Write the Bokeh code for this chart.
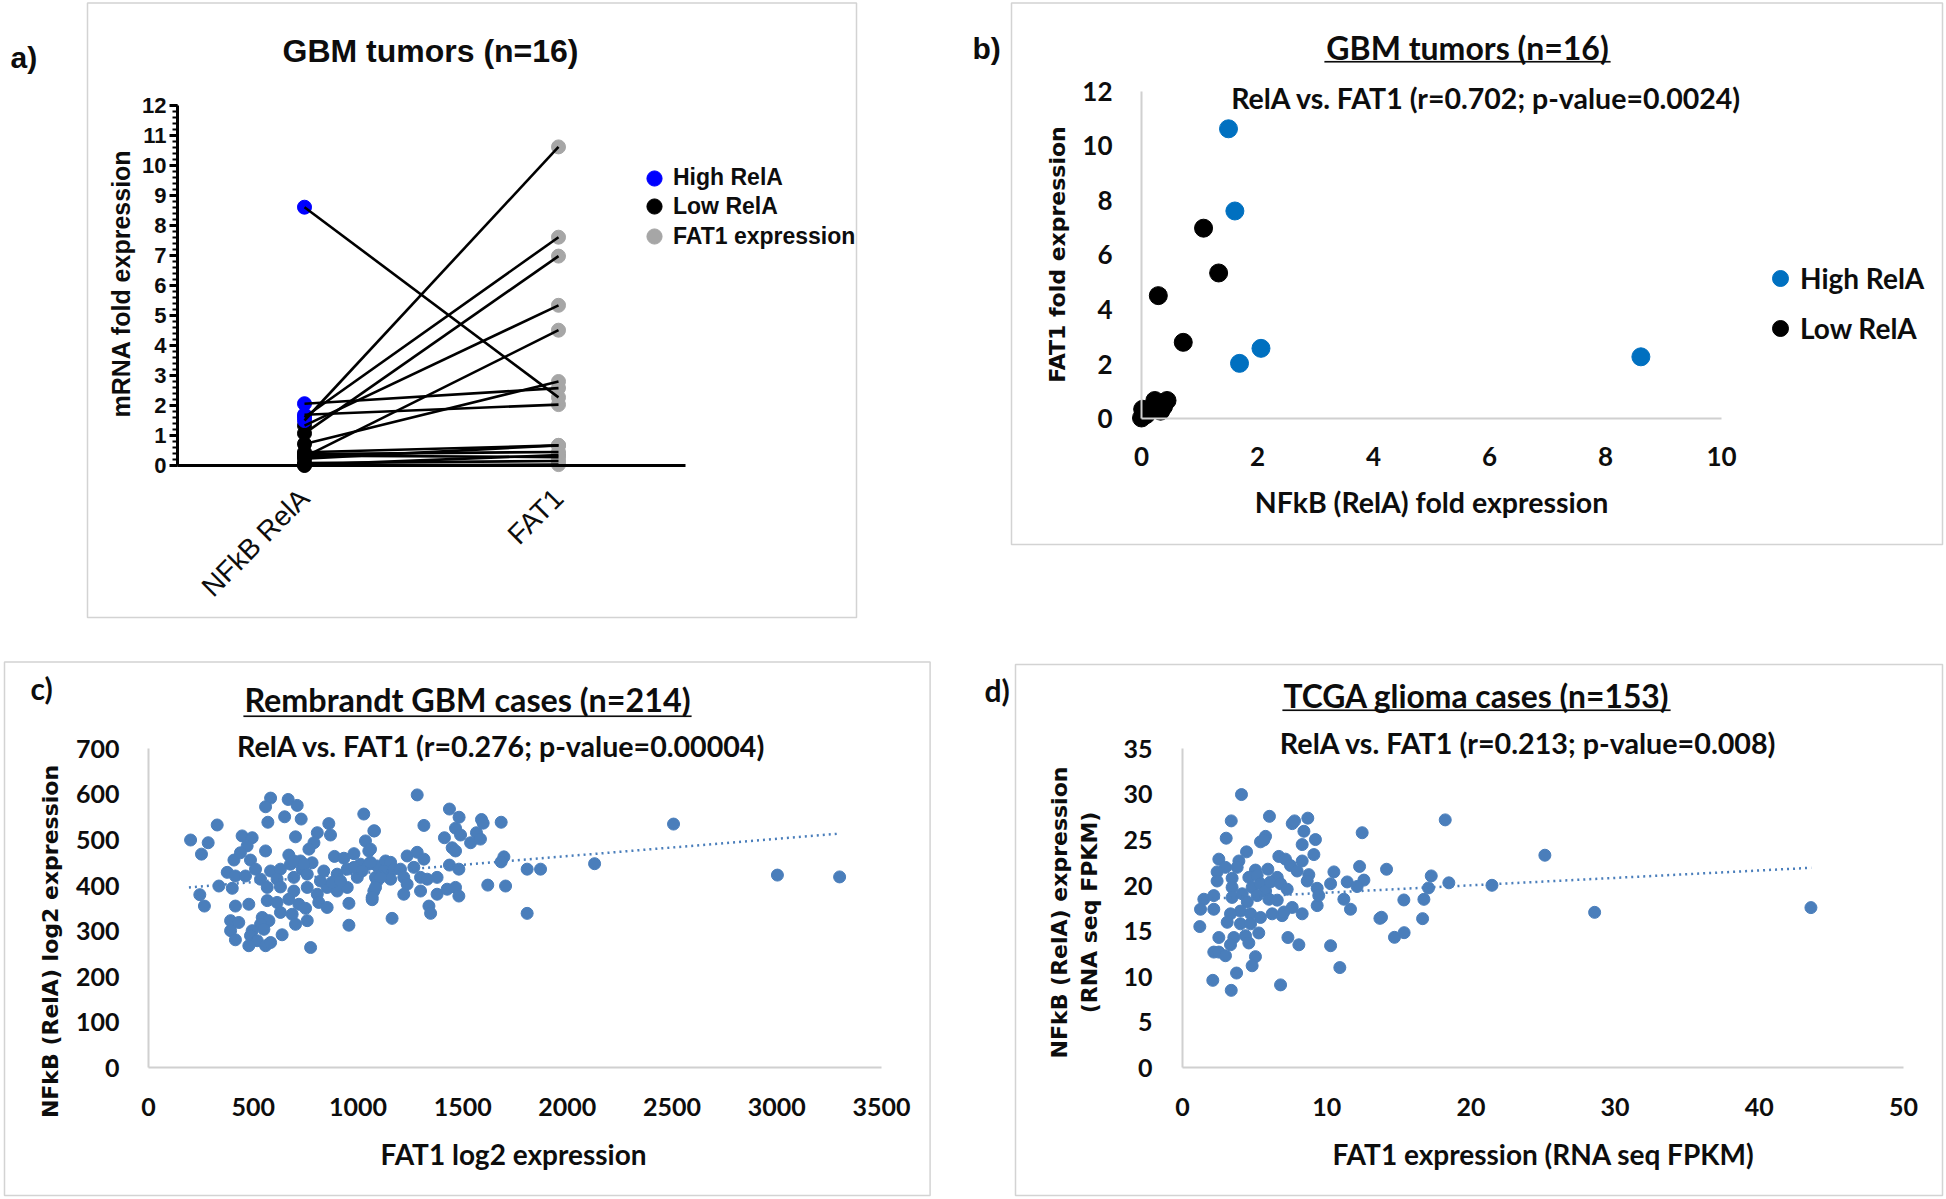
import math
from bokeh.plotting import figure
from bokeh.layouts import row, column
from bokeh.models import (Range1d, Label, BoxAnnotation, Legend, LegendItem,
                          FixedTicker, SingleIntervalTicker)
from bokeh.embed import file_html
from bokeh.resources import INLINE

# ---------------- data ----------------
# a) / b)  GBM tumors (n=16): NFkB RelA fold expression and FAT1 fold expression per tumor
categories = ["NFkB RelA", "FAT1"]
high_rela = [1.50, 1.61, 1.69, 2.06, 8.61]
high_fat1 = [10.62, 7.61, 2.03, 2.58, 2.27]
low_rela = [1.07, 1.33, 0.29, 0.72, 0.00, 0.02, 0.23, 0.44, 0.33, 0.08, 0.38]
low_fat1 = [6.98, 5.34, 4.51, 2.80, 0.03, 0.35, 0.67, 0.67, 0.28, 0.15, 0.45]

a_ytick_interval = 1
b_xticks = [0, 2, 4, 6, 8, 10]
b_yticks = [0, 2, 4, 6, 8, 10, 12]

# c) Rembrandt GBM cases: FAT1 log2 expression (x) vs NFkB RelA log2 expression (y)
c_fat1 = [583, 667, 710, 559, 650, 729, 570, 328, 1028, 861, 201, 285, 253, 447, 495, 471, 702, 806,
          869, 790, 766, 1076, 1036, 1052, 559, 408, 487, 439, 670, 726, 781, 888, 933, 981, 1012, 1052,
          376, 415, 463, 511, 535, 583, 630, 614, 678, 734, 694, 837, 901, 949, 997, 1084, 336, 400,
          245, 267, 567, 630, 694, 758, 806, 853, 901, 949, 1076, 1068, 415, 479, 567, 614, 670, 718,
          813, 853, 750, 957, 392, 431, 543, 575, 535, 630, 686, 702, 758, 957, 392, 495, 551, 415,
          487, 519, 479, 559, 583, 638, 774, 694, 742, 758, 821, 877, 917, 981, 1020, 1092,
          1283, 1437, 1483, 1315, 1590, 1598, 1684, 1466, 1490, 1566, 1538, 1585, 1413, 1450, 1466,
          1697, 1684, 1808, 1872, 1437, 1482, 1620, 1705, 1808, 1079, 1092, 1132, 1156, 1124, 1171,
          1203, 1235, 1283, 1315, 1267, 1219, 1156, 1108, 1084, 1235, 1299, 1331, 1378, 1299, 1219,
          1068, 1378, 1426, 1466, 1482, 1339, 1347, 1163, 1060, 1060,
          2130, 2507, 3003, 3300]
c_rela = [592, 589, 576, 573, 551, 546, 539, 533, 557, 536, 500, 494, 469, 509, 505, 487, 507, 516,
          511, 494, 480, 520, 498, 476, 476, 456, 456, 472, 467, 454, 450, 464, 460, 470, 447, 447,
          429, 421, 421, 436, 414, 432, 436, 414, 447, 436, 418, 432, 425, 436, 418, 418, 399, 394,
          380, 355, 396, 397, 388, 396, 381, 396, 388, 396, 388, 369, 355, 359, 367, 363, 370, 359,
          363, 352, 350, 361, 323, 319, 330, 323, 315, 341, 337, 315, 323, 313, 301, 301, 304, 281,
          290, 279, 268, 268, 275, 292, 264, 454, 447, 425, 410, 407, 410, 440, 432, 410,
          599, 568, 550, 532, 545, 537, 539, 526, 511, 516, 494, 502, 505, 483, 476,
          463, 452, 436, 436, 445, 436, 401, 399, 339, 520, 443, 454, 451, 432, 436,
          436, 465, 473, 458, 440, 418, 414, 418, 396, 403, 418, 414, 418, 388, 381,
          374, 381, 392, 396, 377, 355, 339, 328, 480, 451,
          448, 535, 423, 419]
c_trend_x = [193, 3300]
c_trend_y = [396, 514]
c_xticks = [0, 500, 1000, 1500, 2000, 2500, 3000, 3500]
c_yticks = [0, 100, 200, 300, 400, 500, 600, 700]

# d) TCGA glioma cases: FAT1 FPKM (x) vs NFkB RelA FPKM (y)
d_fat1 = [4.09, 3.38, 6.03, 7.61, 7.77, 8.69, 8.42, 9.22, 8.30, 9.11, 12.46, 3.03, 5.76, 5.41, 5.64,
          4.44, 2.52, 3.91, 2.98, 3.79, 6.68, 7.14, 7.49, 8.30, 7.95, 5.92, 5.06, 2.40, 2.40, 3.44,
          4.60, 5.18, 6.57, 8.76, 8.65, 10.50, 12.28, 12.58, 10.27, 9.34, 11.42, 12.11, 1.48, 2.17,
          1.25, 2.17, 3.44, 3.44, 4.14, 4.83, 5.41, 5.76, 6.10, 6.80, 7.26, 4.49, 5.18, 5.99, 6.57,
          4.02, 3.33, 4.72, 5.41, 6.22, 6.91, 7.61, 7.03, 8.30, 9.34, 9.45, 11.19, 11.65, 13.69,
          3.10, 4.02, 4.72, 1.20, 3.56, 4.37, 5.29, 2.52, 3.33, 4.60, 2.17, 2.52, 2.98, 5.06, 4.83,
          7.31, 8.07, 10.27, 10.91, 3.75, 2.10, 3.38, 6.80,
          18.22, 14.15, 17.25, 18.47, 17.06, 21.46, 15.35, 16.74, 13.80, 16.65, 14.70, 15.37,
          25.13, 28.58, 43.58]
d_rela = [29.99, 27.1, 27.6, 26.8, 27.1, 27.4, 25.96, 25.05, 24.5, 23.4, 25.8, 25.2, 25.4, 24.8, 25.0,
          23.7, 22.9, 22.7, 22.0, 22.0, 23.2, 22.9, 22.2, 22.7, 21.6, 21.8, 21.7, 21.5, 20.5, 20.8,
          20.9, 21.1, 20.9, 21.2, 20.5, 21.5, 22.1, 20.6, 20.2, 19.7, 20.4, 19.9, 18.5, 18.9,
          17.4, 17.4, 19.8, 18.7, 19.1, 19.8, 20.2, 19.4, 20.4, 20.2, 19.6, 18.2, 18.9, 18.5, 18.4,
          17.2, 16.9, 16.9, 16.5, 16.9, 16.7, 17.6, 17.1, 16.9, 17.8, 18.9, 18.5, 17.4, 16.4,
          15.97, 15.8, 15.8, 15.5, 14.3, 14.5, 14.8, 14.3, 13.5, 13.7, 12.7, 12.7, 12.3, 12.2, 11.2,
          14.3, 13.5, 13.4, 11.0, 10.4, 9.6, 8.5, 9.1,
          27.21, 21.79, 21.06, 20.3, 19.74, 20.03, 18.42, 18.49, 16.52, 16.37, 14.32, 14.83,
          23.33, 17.06, 17.58]
d_trend_x = [1.2, 43.6]
d_trend_y = [18.5, 21.95]
d_xticks = [0, 10, 20, 30, 40, 50]
d_yticks = [0, 5, 10, 15, 20, 25, 30, 35]

# ---------------- styling / layout helpers ----------------
BLUE_A = "#0000FF"
GRAY_A = "#A6A6A6"
BLUE_B = "#0070C0"
PT = "#4A7EBB"
AX_GRAY = "#D0D0D0"
BOX = "#6E6E6E"
TXT = "#0D0D0D"

COL_SPLIT = 953
ROW_SPLIT = 640
TOTAL_W = 1944
TOTAL_H = 1197


class Panel:
    """A figure whose frame fills the whole canvas; positions are page pixels."""

    def __init__(self, ox, oy, w, h):
        self.ox, self.oy, self.w, self.h = ox, oy, w, h

    def sx(self, r):
        return r - self.ox

    def sy(self, r):
        return self.h - (r - self.oy)

    def xrange(self, v0, r0, v1, r1):
        k = (v1 - v0) / (r1 - r0)
        return Range1d(v0 + (self.ox - r0) * k, v0 + (self.ox + self.w - r0) * k)

    def yrange(self, v0, r0, v1, r1):
        k = (v1 - v0) / (r1 - r0)
        return Range1d(v0 + (self.oy + self.h - r0) * k, v0 + (self.oy - r0) * k)


def make_fig(P, xr, yr):
    p = figure(width=P.w, height=P.h, x_range=xr, y_range=yr, output_backend="svg",
               toolbar_location=None, title_location=None,
               min_border_left=0, min_border_right=0, min_border_top=0, min_border_bottom=0)
    p.outline_line_color = None
    p.xgrid.visible = False
    p.ygrid.visible = False
    p.background_fill_color = "white"
    p.border_fill_color = "white"
    return p


def label(p, P, rx, ry, text, font, size, bold=True, align="center", baseline="middle",
          angle=0.0, color=TXT):
    p.add_layout(Label(x=P.sx(rx), y=P.sy(ry), x_units="screen", y_units="screen", text=text,
                       text_font=font, text_font_size=f"{size}px",
                       text_font_style="bold" if bold else "normal",
                       text_align=align, text_baseline=baseline, angle=angle, text_color=color))


def box(p, P, l, t, r, b, color=BOX, width=1.5, fill=None):
    p.add_layout(BoxAnnotation(left=P.sx(l), right=P.sx(r), top=P.sy(t), bottom=P.sy(b),
                               left_units="screen", right_units="screen",
                               top_units="screen", bottom_units="screen",
                               fill_color=fill, fill_alpha=1 if fill else 0,
                               line_color=color, line_width=width))


def legend(p, P, items, cx, cy_top, glyph, gap, font, size):
    """Vertical legend whose first marker is centred at (cx, cy_top)."""
    n = len(items)
    height = n * glyph + (n - 1) * gap
    bottom = cy_top - glyph / 2 + height
    p.add_layout(Legend(items=[LegendItem(label=t, renderers=[r]) for t, r in items],
                        location=(P.sx(cx - glyph / 2), P.sy(bottom)), orientation="vertical",
                        glyph_width=glyph, glyph_height=glyph, spacing=gap, label_standoff=0,
                        padding=0, margin=0, border_line_color=None, background_fill_alpha=0,
                        label_text_font=font, label_text_font_style="bold",
                        label_text_font_size=f"{size}px", label_text_color=TXT))


def gray_axes(p, xticks, yticks, fsize, xstand, ystand):
    for ax, ticks in ((p.xaxis[0], xticks), (p.yaxis[0], yticks)):
        ax.ticker = FixedTicker(ticks=ticks)
        ax.fixed_location = 0
        ax.bounds = (ticks[0], ticks[-1])
        ax.axis_line_color = AX_GRAY
        ax.axis_line_width = 2
        ax.major_tick_out = 0
        ax.major_tick_in = 0
        ax.minor_tick_line_color = None
        ax.major_label_text_font = "Lato"
        ax.major_label_text_font_style = "bold"
        ax.major_label_text_font_size = f"{fsize}px"
        ax.major_label_text_color = TXT
    p.xaxis[0].major_label_standoff = xstand
    p.yaxis[0].major_label_standoff = ystand


# ---------------- panel a ----------------
PA = Panel(0, 0, COL_SPLIT, ROW_SPLIT)
pa = make_fig(PA, PA.xrange(0, 304, 1, 558), PA.yrange(0, 465, 12, 105))
rela_all = high_rela + low_rela
fat1_all = high_fat1 + low_fat1
n_all = len(rela_all)
ix_rela = categories.index("NFkB RelA")
ix_fat1 = categories.index("FAT1")
r_fat = pa.scatter(x=[ix_fat1] * n_all, y=fat1_all, size=14, color=GRAY_A)
r_low = pa.scatter(x=[ix_rela] * len(low_rela), y=low_rela, size=14, color="black")
r_high = pa.scatter(x=[ix_rela] * len(high_rela), y=high_rela, size=14, color=BLUE_A)
pa.segment(x0=[ix_rela] * n_all, y0=rela_all, x1=[ix_fat1] * n_all, y1=fat1_all,
           line_color="black", line_width=2.6)

ya = pa.yaxis[0]
ya.ticker = SingleIntervalTicker(interval=a_ytick_interval, num_minor_ticks=5)
ya.fixed_location = -0.5
ya.bounds = (0, 12)
ya.axis_line_width = 3
ya.major_tick_line_width = 3
ya.major_tick_out = 8
ya.major_tick_in = 0
ya.minor_tick_line_width = 2
ya.minor_tick_out = 5
ya.minor_tick_in = 0
ya.major_label_text_font = "Liberation Sans"
ya.major_label_text_font_style = "bold"
ya.major_label_text_font_size = "22px"
ya.major_label_text_color = TXT
ya.major_label_standoff = 3
xa = pa.xaxis[0]
xa.ticker = FixedTicker(ticks=[ix_rela, ix_fat1])
xa.major_label_overrides = {ix_rela: categories[ix_rela], ix_fat1: categories[ix_fat1]}
xa.fixed_location = 0
xa.bounds = (-0.5, 1.5)
xa.axis_line_width = 3
xa.major_tick_out = 0
xa.major_tick_in = 0
xa.minor_tick_line_color = None
xa.major_label_orientation = math.pi / 4
xa.major_label_text_font = "Liberation Sans"
xa.major_label_text_font_style = "normal"
xa.major_label_text_font_size = "28px"
xa.major_label_text_color = TXT
xa.major_label_standoff = 28

# one legend entry per row so the rows sit as close as in the reference
for (txt, rend), cy in zip([("High RelA", r_high), ("Low RelA", r_low), ("FAT1 expression", r_fat)],
                           [177.5, 206, 236]):
    legend(pa, PA, [(txt, rend)], 654, cy, 38, 0, "Liberation Sans", 23)

label(pa, PA, 10, 57, "a)", "Liberation Sans", 30, align="left")
label(pa, PA, 430, 50, "GBM tumors (n=16)", "Liberation Sans", 32)
label(pa, PA, 120, 283, "mRNA fold expression", "Liberation Sans", 25, angle=math.pi / 2)
box(pa, PA, 87, 2.5, 856, 617)

# ---------------- panel b ----------------
PB = Panel(COL_SPLIT, 0, TOTAL_W - COL_SPLIT, ROW_SPLIT)
pb = make_fig(PB, PB.xrange(0, 1141, 10, 1721), PB.yrange(0, 418.3, 12, 90.6))
rb_low = pb.scatter(x=low_rela, y=low_fat1, size=18, color="black")
rb_high = pb.scatter(x=high_rela, y=high_fat1, size=18, color=BLUE_B)
gray_axes(pb, b_xticks, b_yticks, 26, 28, 29)

legend(pb, PB, [("High RelA", rb_high), ("Low RelA", rb_low)], 1780, 278, 40, 10, "Lato", 28)

label(pb, PB, 972, 48, "b)", "Liberation Sans", 30, align="left")
label(pb, PB, 1467, 47, "GBM tumors (n=16)", "Lato", 32)
box(pb, PB, 1324, 60.5, 1610, 62, color=TXT, width=0.5, fill=TXT)
label(pb, PB, 1486, 97, "RelA vs. FAT1 (r=0.702; p-value=0.0024)", "Lato", 28.5)
label(pb, PB, 1057, 254, "FAT1 fold expression", "DejaVu Sans", 22, angle=math.pi / 2)
label(pb, PB, 1431, 501, "NFkB (RelA) fold expression", "Lato", 28.5)
box(pb, PB, 1011, 2.5, 1942, 544)

# ---------------- panel c ----------------
PC = Panel(0, ROW_SPLIT, COL_SPLIT, TOTAL_H - ROW_SPLIT)
pc = make_fig(PC, PC.xrange(0, 148, 3500, 881), PC.yrange(0, 1067.3, 700, 748.4))
pc.scatter(x=c_fat1, y=c_rela, size=12, color=PT)
pc.line(x=c_trend_x, y=c_trend_y, line_color=PT, line_width=2.5, line_dash="2 4")
gray_axes(pc, c_xticks, c_yticks, 25, 30, 29)

label(pc, PC, 30, 687, "c)", "Lato", 30, align="left")
label(pc, PC, 467, 699, "Rembrandt GBM cases (n=214)", "Lato", 32.3)
box(pc, PC, 243, 715, 691, 716.5, color=TXT, width=0.5, fill=TXT)
label(pc, PC, 501, 745, "RelA vs. FAT1 (r=0.276; p-value=0.00004)", "Lato", 28.6)
label(pc, PC, 50, 941, "NFkB (RelA) log2 expression", "DejaVu Sans", 22, angle=math.pi / 2)
label(pc, PC, 513, 1153, "FAT1 log2 expression", "Lato", 28)
box(pc, PC, 4, 661.5, 929.6, 1195)

# ---------------- panel d ----------------
PD = Panel(COL_SPLIT, ROW_SPLIT, TOTAL_W - COL_SPLIT, TOTAL_H - ROW_SPLIT)
pd_ = make_fig(PD, PD.xrange(0, 1182, 50, 1903), PD.yrange(0, 1067.3, 35, 748.4))
pd_.scatter(x=d_fat1, y=d_rela, size=12, color=PT)
pd_.line(x=d_trend_x, y=d_trend_y, line_color=PT, line_width=2.5, line_dash="2 4")
gray_axes(pd_, d_xticks, d_yticks, 25, 30, 30)

label(pd_, PD, 984, 689, "d)", "Lato", 30, align="left")
label(pd_, PD, 1476, 695, "TCGA glioma cases (n=153)", "Lato", 31.8)
box(pd_, PD, 1282, 709, 1670, 710.5, color=TXT, width=0.5, fill=TXT)
label(pd_, PD, 1528, 742, "RelA vs. FAT1 (r=0.213; p-value=0.008)", "Lato", 28.7)
label(pd_, PD, 1059, 912, "NFkB (RelA) expression", "DejaVu Sans", 22, angle=math.pi / 2)
label(pd_, PD, 1089, 912, "(RNA seq FPKM)", "DejaVu Sans", 22, angle=math.pi / 2)
label(pd_, PD, 1543, 1153, "FAT1 expression (RNA seq FPKM)", "Lato", 28)
box(pd_, PD, 1015, 664, 1942, 1195)

layout = column(row(pa, pb), row(pc, pd_))
open("out.html", "w").write(file_html(layout, INLINE))
